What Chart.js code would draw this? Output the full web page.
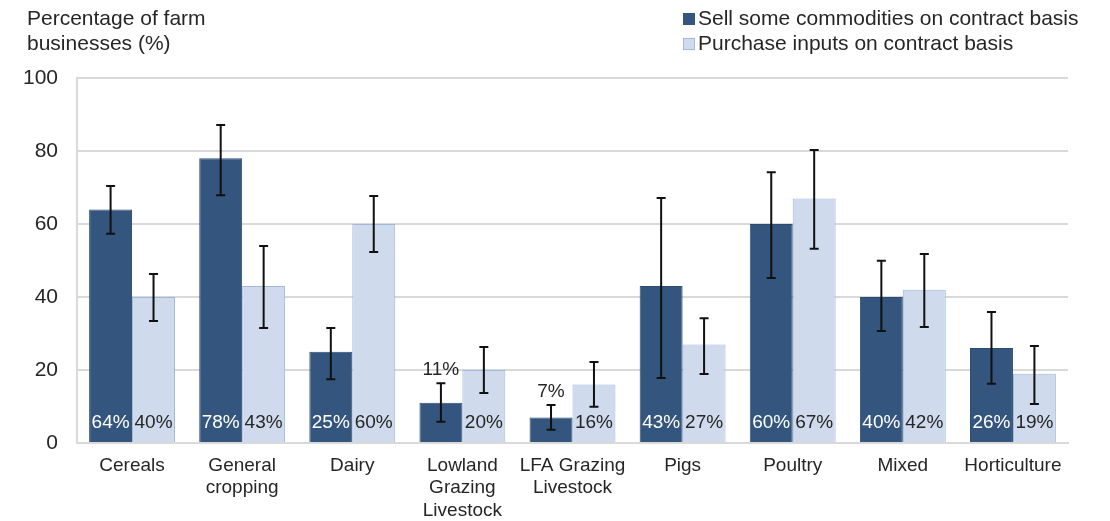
<!DOCTYPE html>
<html>
<head>
<meta charset="utf-8">
<script src="https://cdn.jsdelivr.net/npm/chart.js@4"></script>
<style>
  html, body { margin: 0; padding: 0; background: #fff; }
  #wrap { width: 1110px; height: 521px; position: relative; }
</style>
</head>
<body>
<div id="wrap"><canvas id="myChart"></canvas></div>
<script>
const labels = [
  'Cereals',
  ['General', 'cropping'],
  'Dairy',
  ['Lowland', 'Grazing', 'Livestock'],
  ['LFA Grazing', 'Livestock'],
  'Pigs',
  'Poultry',
  'Mixed',
  'Horticulture',
];

const sellValues = [64, 78, 25, 11, 7, 43, 60, 40, 26];
const sellLow = [57.3, 67.9, 17.5, 5.8, 3.6, 17.8, 45.2, 30.7, 16.2];
const sellHigh = [70.4, 87.1, 31.5, 16.4, 10.4, 67.1, 74.2, 49.9, 35.9];

const buyValues = [40, 43, 60, 20, 16, 27, 67, 42, 19];
const buyLow = [33.4, 31.5, 52.3, 13.7, 9.9, 18.9, 53.2, 31.8, 10.7];
const buyHigh = [46.3, 54, 67.7, 26.3, 22.2, 34.2, 80.3, 51.8, 26.6];

const yTicks = [0, 20, 40, 60, 80, 100];

const darkBlue = '#34557d';
const lightBlue = '#cfdbec';
const textColor = '#262626';
const fontName = '"Liberation Sans", Arial, sans-serif';

// error bars + value labels + y title + legend
const extras = {
  id: 'extras',
  afterDatasetsDraw(chart) {
    const ctx = chart.ctx;
    const y = chart.scales.y;
    const lows = [sellLow, buyLow];
    const highs = [sellHigh, buyHigh];
    ctx.save();
    chart.data.datasets.forEach((ds, di) => {
      const meta = chart.getDatasetMeta(di);
      meta.data.forEach((bar, i) => {
        const x = bar.x;
        const yl = y.getPixelForValue(lows[di][i]);
        const yh = y.getPixelForValue(highs[di][i]);
        ctx.strokeStyle = '#111';
        ctx.lineWidth = 2;
        ctx.beginPath();
        ctx.moveTo(x, yl); ctx.lineTo(x, yh);
        ctx.moveTo(x - 4.5, yl); ctx.lineTo(x + 4.5, yl);
        ctx.moveTo(x - 4.5, yh); ctx.lineTo(x + 4.5, yh);
        ctx.stroke();

        // value label
        const v = ds.data[i];
        ctx.font = '19px ' + fontName;
        ctx.textAlign = 'center';
        ctx.textBaseline = 'middle';
        if (v < 15) {
          ctx.fillStyle = textColor;
          ctx.fillText(v + '%', x, yh - 13);
        } else {
          ctx.fillStyle = di === 0 ? '#ffffff' : textColor;
          ctx.fillText(v + '%', x, y.getPixelForValue(0) - 20);
        }
      });
    });

    // y axis title
    ctx.fillStyle = textColor;
    ctx.font = '21px ' + fontName;
    ctx.textAlign = 'left';
    ctx.textBaseline = 'middle';
    ctx.fillText('Percentage of farm', 27, 19);
    ctx.fillText('businesses (%)', 27, 44);

    // legend
    const items = [
      ['Sell some commodities on contract basis', darkBlue, darkBlue],
      ['Purchase inputs on contract basis', lightBlue, '#9fb8dc'],
    ];
    items.forEach((it, k) => {
      const ly = 19 + k * 25;
      ctx.fillStyle = it[1];
      ctx.fillRect(683, ly - 6, 12, 12);
      ctx.strokeStyle = it[2];
      ctx.lineWidth = 1;
      ctx.strokeRect(683.5, ly - 5.5, 11, 11);
      ctx.fillStyle = textColor;
      ctx.fillText(it[0], 698, ly);
    });
    ctx.restore();
  }
};

const data = {
  labels: labels,
  datasets: [{
    label: 'Sell some commodities on contract basis',
    backgroundColor: darkBlue,
    borderColor: '#2d4c72',
    borderWidth: 1,
    data: sellValues,
  }, {
    label: 'Purchase inputs on contract basis',
    backgroundColor: lightBlue,
    borderColor: '#9fb8dc',
    borderWidth: 1,
    data: buyValues,
  }]
};

const config = {
  type: 'bar',
  data: data,
  plugins: [extras],
  options: {
    responsive: false,
    animation: false,
    maintainAspectRatio: false,
    categoryPercentage: 0.78,
    barPercentage: 1.0,
    layout: { padding: { top: 78, right: 42, left: 0, bottom: 0 } },
    plugins: {
      legend: { display: false },
      tooltip: { enabled: false },
    },
    scales: {
      x: {
        grid: { display: false, drawTicks: false },
        border: { color: '#d9d9d9', width: 2 },
        ticks: {
          color: textColor,
          font: { family: fontName, size: 19 },
          padding: 11,
          maxRotation: 0,
          autoSkip: false,
        },
        afterFit(scale) { scale.height = 78; },
      },
      y: {
        min: 0,
        max: 100,
        afterBuildTicks(scale) { scale.ticks = yTicks.map(v => ({ value: v })); },
        grid: { color: '#d9d9d9', lineWidth: 2, drawTicks: false },
        border: { color: '#d9d9d9', width: 2 },
        ticks: {
          color: textColor,
          font: { family: fontName, size: 21 },
          padding: 19,
        },
        afterFit(scale) { scale.width = 77; },
      }
    }
  }
};

const canvas = document.getElementById('myChart');
canvas.width = 1110;
canvas.height = 521;
const myChart = new Chart(canvas, config);
</script>
</body>
</html>
